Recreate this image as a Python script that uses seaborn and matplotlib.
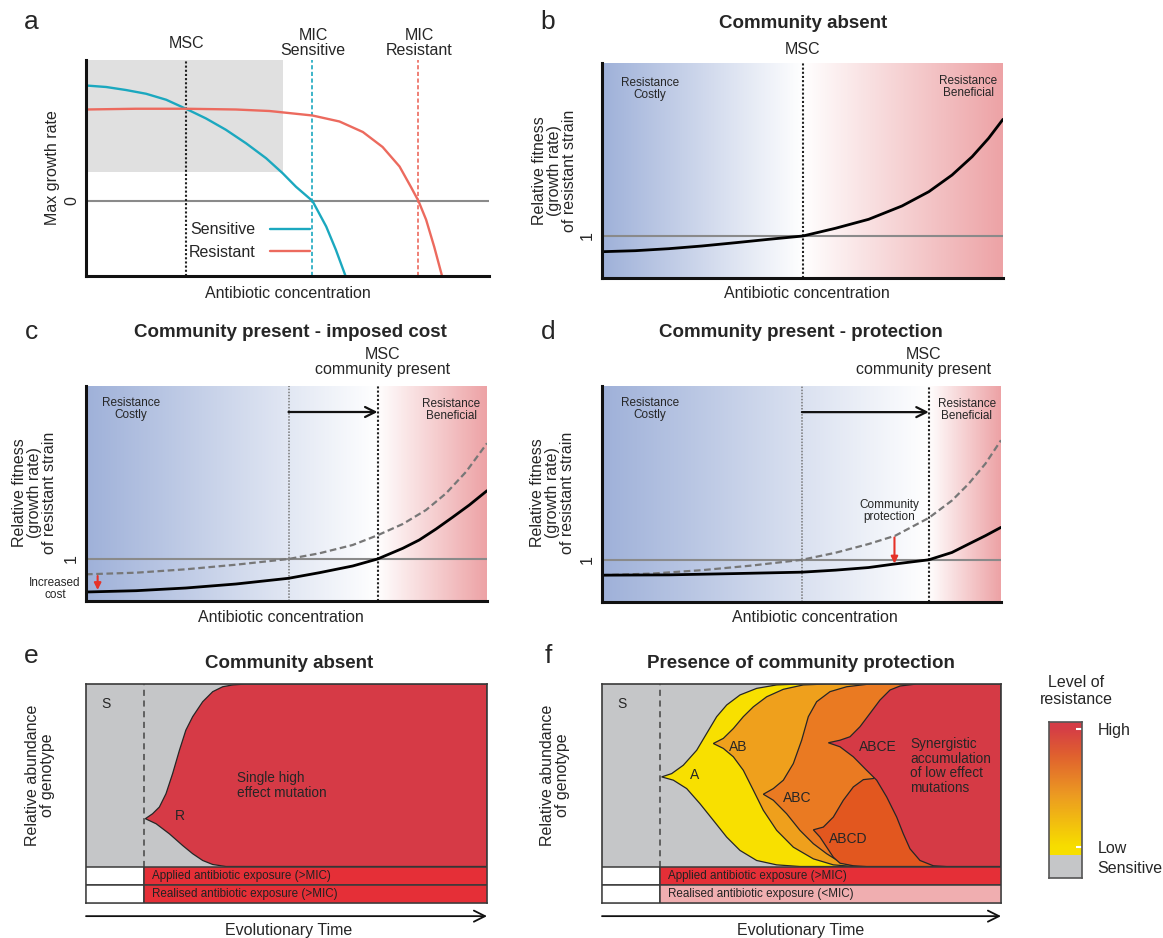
import numpy as np
import matplotlib
matplotlib.use("Agg")
import matplotlib.pyplot as plt
import seaborn as sns
from matplotlib.colors import LinearSegmentedColormap
from matplotlib.lines import Line2D

sns.set_theme(style="white")
plt.rcParams["font.family"] = ["Liberation Sans", "DejaVu Sans"]

# ---------------- data ----------------
# panel a: max growth rate vs antibiotic concentration (x 0-10, zero growth at 0)
a_sens_x = [0, 0.50, 0.99, 1.49, 1.99, 2.48, 2.98, 3.47, 3.97, 4.47, 4.88, 5.21, 5.62, 5.96, 6.20, 6.44]
a_sens_y = [1.54, 1.52, 1.48, 1.43, 1.35, 1.23, 1.10, 0.95, 0.77, 0.57, 0.37, 0.19, 0.0, -0.34, -0.65, -1.0]
a_res_x = [0, 1.24, 2.48, 3.72, 4.55, 5.62, 6.29, 6.87, 7.36, 7.78, 8.06, 8.25, 8.44, 8.64, 8.83]
a_res_y = [1.22, 1.23, 1.23, 1.22, 1.20, 1.14, 1.06, 0.92, 0.72, 0.46, 0.19, 0.0, -0.25, -0.61, -0.99]
a_msc, a_mic_sens, a_mic_res = 2.48, 5.62, 8.23
a_box_x, a_box_y = 4.88, 0.39

# panel b: relative fitness, community absent
b_x = [0, 0.83, 1.66, 2.49, 3.33, 4.16, 5.01, 5.82, 6.65, 7.48, 8.15, 8.73, 9.23, 9.64, 10.0]
b_y = [0.843, 0.853, 0.873, 0.90, 0.933, 0.967, 1.0, 1.077, 1.167, 1.30, 1.443, 1.61, 1.793, 1.977, 2.167]
b_msc = 5.01

# panel c: imposed cost
c_absent_x = [0, 1.25, 2.49, 3.74, 5.05, 5.82, 6.65, 7.27, 7.9, 8.48, 8.98, 9.48, 10.0]
c_absent_y = [0.847, 0.863, 0.897, 0.943, 1.0, 1.057, 1.14, 1.237, 1.35, 1.49, 1.657, 1.873, 2.157]
c_present_x = [0, 1.25, 2.49, 3.74, 5.05, 5.82, 6.65, 7.27, 7.9, 8.31, 8.73, 9.14, 9.56, 10.0]
c_present_y = [0.67, 0.683, 0.71, 0.75, 0.807, 0.863, 0.93, 1.0, 1.107, 1.19, 1.30, 1.417, 1.54, 1.683]
c_msc, c_msc_comm = 5.05, 7.27

# panel d: protection
d_absent_x = [0, 1.25, 2.51, 3.76, 5.01, 5.85, 6.68, 7.35, 8.19, 8.77, 9.19, 9.61, 10.0]
d_absent_y = [0.847, 0.863, 0.897, 0.943, 1.0, 1.07, 1.157, 1.24, 1.417, 1.59, 1.757, 1.957, 2.19]
d_present_x = [0, 1.67, 3.34, 5.01, 5.85, 6.68, 7.31, 8.19, 8.77, 9.19, 9.61, 10.0]
d_present_y = [0.847, 0.85, 0.863, 0.877, 0.897, 0.923, 0.957, 1.0, 1.073, 1.157, 1.24, 1.323]
d_msc, d_msc_comm = 5.01, 8.19

# panel e: genotype abundance (time 0-100, abundance 0-1)
e_start = 14.5
e_R_up_x = [14.8, 16.6, 18.3, 19.95, 21.6, 23.3, 24.9, 26.6, 29.1, 31.6, 34.1, 36.6, 39.9, 100]
e_R_up_y = [0.262, 0.289, 0.326, 0.399, 0.509, 0.637, 0.747, 0.821, 0.903, 0.958, 0.985, 0.995, 1.0, 1.0]
e_R_lo_x = [14.8, 17.5, 20.8, 24.1, 26.6, 29.1, 31.6, 34.9, 100]
e_R_lo_y = [0.262, 0.234, 0.179, 0.115, 0.070, 0.033, 0.011, 0.0, 0.0]

# panel f: nested genotypes (each region includes its descendants)
f_start = 14.5
f_geno = ["A", "AB", "ABC", "ABCD", "ABCE"]
f_up_x = {
    "A": [14.95, 17.46, 20.38, 23.73, 26.23, 28.74, 31.25, 34.59, 38.76, 43.78, 49.62, 100],
    "AB": [27.90, 30.41, 32.92, 35.42, 37.93, 41.27, 45.45, 50.46, 56.31, 100],
    "ABC": [40.43, 42.94, 45.45, 47.95, 50.04, 51.71, 53.80, 57.14, 61.32, 66.33, 71.35, 100],
    "ABCD": [52.97, 55.47, 57.98, 60.48, 62.99, 65.50, 68.00, 71.35, 76.36, 79.70, 100],
    "ABCE": [56.73, 59.65, 62.16, 64.66, 67.17, 69.67, 72.18, 74.69, 78.86, 100],
}
f_up_y = {
    "A": [0.491, 0.509, 0.555, 0.637, 0.729, 0.821, 0.885, 0.940, 0.976, 0.995, 1.0, 1.0],
    "AB": [0.674, 0.702, 0.756, 0.821, 0.875, 0.930, 0.971, 0.995, 1.0, 1.0],
    "ABC": [0.396, 0.427, 0.473, 0.564, 0.692, 0.821, 0.903, 0.958, 0.985, 0.998, 1.0, 1.0],
    "ABCD": [0.201, 0.216, 0.271, 0.363, 0.436, 0.476, 0.482, 0.564, 0.839, 1.0, 1.0],
    "ABCE": [0.678, 0.692, 0.711, 0.766, 0.839, 0.912, 0.967, 0.989, 1.0, 1.0],
}
f_lo_x = {
    "A": [14.95, 17.88, 21.22, 24.56, 27.90, 31.25, 34.59, 38.76, 43.78, 49.62, 100],
    "AB": [27.90, 30.41, 32.92, 35.42, 37.93, 40.43, 43.78, 47.95, 52.97, 57.98, 62.99, 100],
    "ABC": [40.43, 42.94, 46.28, 49.62, 52.97, 56.31, 59.65, 62.99, 66.33, 100],
    "ABCD": [52.97, 54.64, 56.31, 57.98, 59.65, 62.99, 66.33, 100],
    "ABCE": [56.73, 59.65, 62.99, 66.33, 68.84, 71.35, 73.85, 75.52, 77.19, 79.70, 83.04, 86.38, 100],
}
f_lo_y = {
    "A": [0.491, 0.473, 0.427, 0.344, 0.253, 0.161, 0.088, 0.033, 0.009, 0.0, 0.0],
    "AB": [0.674, 0.647, 0.601, 0.527, 0.418, 0.308, 0.198, 0.106, 0.042, 0.009, 0.0, 0.0],
    "ABC": [0.396, 0.363, 0.289, 0.198, 0.125, 0.070, 0.024, 0.004, 0.0, 0.0],
    "ABCD": [0.201, 0.161, 0.106, 0.051, 0.018, 0.004, 0.0, 0.0],
    "ABCE": [0.678, 0.656, 0.601, 0.527, 0.473, 0.381, 0.271, 0.179, 0.097, 0.033, 0.004, 0.0, 0.0],
}
f_label_pos = {"A": (23.3, 0.50), "AB": (34.2, 0.656), "ABC": (49.0, 0.378),
               "ABCD": (61.7, 0.152), "ABCE": (69.2, 0.656)}

# colours
BLUE, PINK = "#9fb1d9", "#eda3a6"
CYAN, SALMON = "#1ba8bf", "#ec6a5e"
GREY_S = "#c5c6c8"
RED_R = "#d63a46"
BAR_RED, BAR_PINK = "#e52f37", "#f0aeb0"
f_colors = {"A": "#f8e000", "AB": "#efa01c", "ABC": "#ea7a22",
            "ABCD": "#e2571f", "ABCE": "#d53a45"}

FS = 11.5        # axis labels
FS_TITLE = 13.5
FS_LETTER = 19
FS_SMALL = 8.5

# ---------------- layout helpers (pixel based) ----------------
W, H = 1163, 938
fig = plt.figure(figsize=(W / 100, H / 100), dpi=100)


def rect(l, t, r, b):
    return [l / W, 1 - b / H, (r - l) / W, (b - t) / H]


def fp(x, y):
    return (x / W, 1 - y / H)


def label(x, y, s, **kw):
    kw.setdefault("ha", "center")
    kw.setdefault("va", "center")
    kw.setdefault("fontsize", FS)
    fig.text(*fp(x, y), s, **kw)


def style_fitness_axes(ax):
    for side in ["top", "right"]:
        ax.spines[side].set_visible(False)
    for side in ["left", "bottom"]:
        ax.spines[side].set_color("#111")
        ax.spines[side].set_linewidth(2.2)
    ax.set_xticks([])
    ax.tick_params(axis="y", length=0, pad=5, labelsize=FS)


def gradient_bg(ax, split, ylo, yhi):
    cmap = LinearSegmentedColormap.from_list("bg", [(0, BLUE), (split / 10, "white"), (1, PINK)])
    ax.imshow(np.linspace(0, 1, 600)[None, :], extent=[0, 10, ylo, yhi],
              aspect="auto", cmap=cmap, zorder=0, interpolation="bilinear")


def curve(ax, x, y, **kw):
    sns.lineplot(x=x, y=y, ax=ax, estimator=None, sort=False, legend=False, **kw)


YLO, YHI = 0.58, 2.73

# ---------------- panel a ----------------
ax = fig.add_axes(rect(86, 60, 489, 276))
ax.fill_between([0, a_box_x], a_box_y, 1.88, color="#e0e0e0", lw=0, zorder=0)
ax.axhline(0, color="#8a8a8a", lw=1.5, zorder=1)
ax.axvline(a_msc, color="#222", lw=1.5, ls=(0, (1, 1)), zorder=2)
ax.axvline(a_mic_sens, color=CYAN, lw=1.2, ls=(0, (2.5, 1.5)), zorder=2)
ax.axvline(a_mic_res, color=SALMON, lw=1.2, ls=(0, (2.5, 1.5)), zorder=2)
curve(ax, a_sens_x, a_sens_y, color=CYAN, lw=1.7)
curve(ax, a_res_x, a_res_y, color=SALMON, lw=1.7)
ax.set_xlim(0, 10)
ax.set_ylim(-1, 1.88)
style_fitness_axes(ax)
ax.set_yticks([0])
ax.set_yticklabels(["0"], rotation=90, va="center")
handles = [Line2D([], [], color=CYAN, lw=1.7), Line2D([], [], color=SALMON, lw=1.7)]
ax.legend(handles, ["Sensitive", "Resistant"], markerfirst=False, frameon=False,
          handlelength=2.5, handletextpad=0.9, fontsize=FS, labelspacing=0.45, loc="center",
          bbox_to_anchor=(0.405, 0.162))
label(53, 168, "Max growth rate", rotation=90)
label(288, 294, "Antibiotic concentration")
label(187, 44, "MSC")
label(313, 43, "MIC\nSensitive", linespacing=1.0)
label(419, 43, "MIC\nResistant", linespacing=1.0)
label(31, 22, "a", fontsize=FS_LETTER)

# ---------------- panel b ----------------
ax = fig.add_axes(rect(602, 63, 1003, 278))
gradient_bg(ax, b_msc, YLO, YHI)
ax.axhline(1, color="#8a8a8a", lw=1.5, zorder=1)
ax.axvline(b_msc, color="#222", lw=1.5, ls=(0, (1, 1)), zorder=2)
curve(ax, b_x, b_y, color="black", lw=2)
ax.set_xlim(0, 10)
ax.set_ylim(YLO, YHI)
style_fitness_axes(ax)
ax.set_yticks([1])
ax.set_yticklabels(["1"], rotation=90, va="center")
label(650, 89, "Resistance\nCostly", fontsize=FS_SMALL, linespacing=1.0)
label(968, 87, "Resistance\nBeneficial", fontsize=FS_SMALL, linespacing=1.0)
label(803, 24, "Community absent", fontsize=FS_TITLE, fontweight="bold")
label(803, 49, "MSC")
label(554, 171, "Relative fitness\n(growth rate)\nof resistant strain", rotation=90, linespacing=1.0)
label(807, 294, "Antibiotic concentration")
label(548, 22, "b", fontsize=FS_LETTER)

# ---------------- panel c ----------------
ax = fig.add_axes(rect(86, 386, 487, 601))
gradient_bg(ax, c_msc_comm, YLO, YHI)
ax.axhline(1, color="#8a8a8a", lw=1.5, zorder=1)
ax.axvline(c_msc, color="#777", lw=1.1, ls=(0, (1, 1)), zorder=2)
ax.axvline(c_msc_comm, color="#222", lw=1.5, ls=(0, (1, 1)), zorder=2)
curve(ax, c_absent_x, c_absent_y, color="#777", lw=1.6, linestyle=(0, (3, 1.6)))
curve(ax, c_present_x, c_present_y, color="black", lw=2)
ax.annotate("", xy=(c_msc_comm, 2.47), xytext=(c_msc, 2.47),
            arrowprops=dict(arrowstyle="->", lw=1.6, color="#111", mutation_scale=18,
                            shrinkA=0, shrinkB=0))
ax.annotate("", xy=(0.29, 0.69), xytext=(0.29, 0.83),
            arrowprops=dict(arrowstyle="-|>", lw=1.5, color="#e63228", mutation_scale=10,
                            shrinkA=0, shrinkB=0))
ax.set_xlim(0, 10)
ax.set_ylim(YLO, YHI)
style_fitness_axes(ax)
ax.set_yticks([1])
ax.set_yticklabels(["1"], rotation=90, va="center")
label(131, 409, "Resistance\nCostly", fontsize=FS_SMALL, linespacing=1.0)
label(451, 410, "Resistance\nBeneficial", fontsize=FS_SMALL, linespacing=1.0)
label(55, 589, "Increased\ncost", fontsize=FS_SMALL, linespacing=1.0)
label(383, 362, "MSC\ncommunity present", linespacing=1.0)
label(290, 332, "Community present - imposed cost", fontsize=FS_TITLE, fontweight="bold")
label(35, 493, "Relative fitness\n(growth rate)\nof resistant strain", rotation=90, linespacing=1.0)
label(281, 618, "Antibiotic concentration")
label(31, 332, "c", fontsize=FS_LETTER)

# ---------------- panel d ----------------
ax = fig.add_axes(rect(602, 386, 1001, 602))
gradient_bg(ax, d_msc_comm, YLO, YHI)
ax.axhline(1, color="#8a8a8a", lw=1.5, zorder=1)
ax.axvline(d_msc, color="#777", lw=1.1, ls=(0, (1, 1)), zorder=2)
ax.axvline(d_msc_comm, color="#222", lw=1.5, ls=(0, (1, 1)), zorder=2)
curve(ax, d_absent_x, d_absent_y, color="#777", lw=1.6, linestyle=(0, (3, 1.6)))
curve(ax, d_present_x, d_present_y, color="black", lw=2)
ax.annotate("", xy=(d_msc_comm, 2.47), xytext=(d_msc, 2.47),
            arrowprops=dict(arrowstyle="->", lw=1.6, color="#111", mutation_scale=18,
                            shrinkA=0, shrinkB=0))
ax.annotate("", xy=(7.33, 0.963), xytext=(7.33, 1.223),
            arrowprops=dict(arrowstyle="-|>", lw=1.5, color="#e63228", mutation_scale=10,
                            shrinkA=0, shrinkB=0))
ax.set_xlim(0, 10)
ax.set_ylim(YLO, YHI)
style_fitness_axes(ax)
ax.set_yticks([1])
ax.set_yticklabels(["1"], rotation=90, va="center")
label(650, 409, "Resistance\nCostly", fontsize=FS_SMALL, linespacing=1.0)
label(967, 410, "Resistance\nBeneficial", fontsize=FS_SMALL, linespacing=1.0)
label(889, 511, "Community\nprotection", fontsize=FS_SMALL, linespacing=1.0)
label(924, 362, "MSC\ncommunity present", linespacing=1.0)
label(801, 332, "Community present - protection", fontsize=FS_TITLE, fontweight="bold")
label(553, 493, "Relative fitness\n(growth rate)\nof resistant strain", rotation=90, linespacing=1.0)
label(815, 618, "Antibiotic concentration")
label(548, 332, "d", fontsize=FS_LETTER)


# ---------------- panels e / f ----------------
def muller_frame(ax, start, realised_color, realised_text):
    ax.barh([-0.05, -0.15], [start, start], left=0, height=0.1, color="white",
            edgecolor="#3a3a3a", lw=1.1, zorder=3)
    ax.barh([-0.05, -0.15], [100 - start, 100 - start], left=start, height=0.1,
            color=[BAR_RED, realised_color], edgecolor="#3a3a3a", lw=1.1, zorder=3)
    ax.text(start + 2, -0.05, "Applied antibiotic exposure (>MIC)", fontsize=8.4,
            color="#222", va="center", zorder=4)
    ax.text(start + 2, -0.15, realised_text, fontsize=8.4, color="#222", va="center", zorder=4)
    ax.plot([start, start], [0, 1], color="#444", lw=1.1, ls=(0, (4, 3)), zorder=4)
    ax.set_xlim(0, 100)
    ax.set_ylim(-0.2, 1.0)
    ax.set_xticks([])
    ax.set_yticks([])
    for sp in ax.spines.values():
        sp.set_color("#3a3a3a")
        sp.set_linewidth(1.2)
    ax.annotate("", xy=(1.0, -0.06), xytext=(0, -0.06), xycoords="axes fraction",
                arrowprops=dict(arrowstyle="->", lw=1.3, color="#111", mutation_scale=20,
                                shrinkA=0, shrinkB=0))
    ax.text(5.0, 0.89, "S", fontsize=10, ha="center", va="center", zorder=4)


def region(ax, ux, uy, lx, ly, color):
    px = list(ux) + list(lx)[::-1]
    py = list(uy) + list(ly)[::-1]
    ax.fill(px, py, facecolor=color, edgecolor="#262626", lw=0.9, zorder=2)


ax = fig.add_axes(rect(86, 684, 487, 903))
ax.fill_between([0, 100], 0, 1, color=GREY_S, lw=0, zorder=1)
region(ax, e_R_up_x, e_R_up_y, e_R_lo_x, e_R_lo_y, RED_R)
muller_frame(ax, e_start, BAR_RED, "Realised antibiotic exposure (>MIC)")
ax.text(23.5, 0.275, "R", fontsize=10, ha="center", va="center", zorder=4)
ax.text(37.7, 0.445, "Single high\neffect mutation", fontsize=9.8, va="center",
        linespacing=1.1, zorder=4)
label(289, 664, "Community absent", fontsize=FS_TITLE, fontweight="bold")
label(40, 775, "Relative abundance\nof genotype", rotation=90, linespacing=1.0)
label(289, 930, "Evolutionary Time")
label(31, 656, "e", fontsize=FS_LETTER)

ax = fig.add_axes(rect(602, 684, 1001, 903))
ax.fill_between([0, 100], 0, 1, color=GREY_S, lw=0, zorder=1)
for g in f_geno:
    region(ax, f_up_x[g], f_up_y[g], f_lo_x[g], f_lo_y[g], f_colors[g])
muller_frame(ax, f_start, BAR_PINK, "Realised antibiotic exposure (<MIC)")
for g in f_geno:
    ax.text(*f_label_pos[g], g, fontsize=10, ha="center", va="center", zorder=4)
ax.text(77.3, 0.55, "Synergistic\naccumulation\nof low effect\nmutations", fontsize=9.8,
        va="center", linespacing=1.05, zorder=4)
label(801, 664, "Presence of community protection", fontsize=FS_TITLE, fontweight="bold")
label(555, 775, "Relative abundance\nof genotype", rotation=90, linespacing=1.0)
label(801, 930, "Evolutionary Time")
label(548, 656, "f", fontsize=FS_LETTER)

# ---------------- resistance colour scale ----------------
cb_levels = ["Sensitive", "Low", "High"]
cb_pos = [0.071, 0.199, 0.955]
ax = fig.add_axes(rect(1049, 722, 1082, 878))
cb_cmap = LinearSegmentedColormap.from_list(
    "res", [(0, "#f7e000"), (0.07, "#f7dc00"), (0.45, "#ec9a22"), (0.75, "#e0602f"),
            (0.95, "#d53d46"), (1, "#d53d46")])
ax.imshow(np.linspace(0, 1, 300)[:, None], extent=[0, 1, 0.147, 1], origin="lower",
          aspect="auto", cmap=cb_cmap, zorder=0)
ax.axhspan(0, 0.147, color=GREY_S, lw=0)
ax.set_xlim(0, 1)
ax.set_ylim(0, 1)
ax.set_xticks([])
ax.yaxis.tick_right()
ax.set_yticks(cb_pos)
ax.set_yticklabels(cb_levels)
ax.tick_params(axis="y", direction="in", length=4, width=1.5, color="white",
               labelsize=FS, pad=11, right=True, left=False)
for sp in ax.spines.values():
    sp.set_color("#555")
    sp.set_linewidth(1.2)
label(1076, 691, "Level of\nresistance", linespacing=1.1)

fig.savefig("out.png", dpi=100, facecolor="white")
